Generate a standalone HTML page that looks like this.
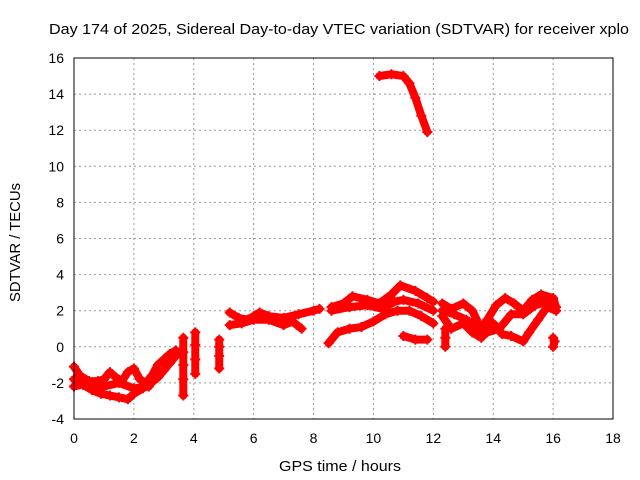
<!DOCTYPE html>
<html><head><meta charset="utf-8"><style>
body{margin:0;background:#fff}
svg{display:block;font-family:"Liberation Sans",sans-serif}
</style></head><body>
<svg id="c" width="640" height="480" xmlns="http://www.w3.org/2000/svg">
<text x="49" y="34" font-size="15" textLength="580" lengthAdjust="spacingAndGlyphs">Day 174 of 2025, Sidereal Day-to-day VTEC variation (SDTVAR) for receiver xplo</text>
<text x="279" y="471" font-size="15" textLength="122" lengthAdjust="spacingAndGlyphs">GPS time / hours</text>
<text x="20" y="302" font-size="15" textLength="119" lengthAdjust="spacingAndGlyphs" transform="rotate(-90 20 302)">SDTVAR / TECUs</text>
<g id="grid"></g><g id="ticks"></g><g id="marks"></g>
<rect x="74" y="58" width="539" height="361" fill="none" stroke="#000" stroke-width="1"/>
</svg>
<script>
const xTicks=[0,2,4,6,8,10,12,14,16,18];
const yTicks=[-4,-2,0,2,4,6,8,10,12,14,16];
const traceA=[[0,-1.8],[0.3,-2.1],[0.6,-2.4],[0.9,-2.6],[1.2,-2.7],[1.5,-2.8],[1.8,-2.9],[2.0,-2.6],[2.3,-2.3],[2.5,-2.1],[2.8,-1.7],[3.0,-1.3],[3.2,-0.9],[3.4,-0.5],[3.55,-0.3]];
const traceB=[[0,-1.1],[0.2,-1.6],[0.5,-1.9],[0.8,-1.9],[1.0,-1.8],[1.2,-1.4],[1.4,-1.7],[1.6,-1.9],[1.8,-1.4],[2.0,-1.2],[2.2,-1.8],[2.4,-2.0],[2.6,-1.6],[2.8,-1.0],[3.0,-0.7],[3.2,-0.4],[3.4,-0.2]];
const traceC=[[0,-2.2],[0.5,-2.0],[1.0,-2.2],[1.5,-2.0],[2.0,-2.3],[2.5,-2.2]];
const traceD=[[3.65,-2.7],[3.65,-1.8],[3.65,-1.0],[3.65,-0.3],[3.65,0.5]];
const traceE=[[4.05,-1.5],[4.05,-0.7],[4.05,0.1],[4.05,0.8]];
const traceF=[[4.85,-1.2],[4.85,-0.5],[4.85,0.0],[4.85,0.4]];
const traceG=[[5.2,1.9],[5.5,1.6],[5.8,1.5],[6.0,1.7],[6.2,1.9],[6.5,1.7],[7.0,1.6],[7.5,1.8],[8.0,2.0],[8.2,2.1]];
const traceH=[[5.2,1.2],[5.6,1.3],[6.0,1.5],[6.5,1.5],[7.0,1.2],[7.3,1.4],[7.6,1.0]];
const traceI=[[8.6,2.2],[9.0,2.4],[9.3,2.8],[9.8,2.6],[10.2,2.4],[10.6,2.9],[10.9,3.4],[11.4,3.1],[11.8,2.7],[12.0,2.5]];
const traceJ=[[8.6,2.0],[9.2,2.2],[9.8,2.3],[10.3,2.1],[10.7,2.5],[11.0,2.6],[11.5,2.4],[12.0,2.0]];
const traceK=[[8.5,0.2],[8.8,0.8],[9.2,1.0],[9.6,1.1],[10.0,1.4],[10.4,1.8],[10.8,2.0],[11.2,2.0],[11.6,1.7],[12.0,1.3]];
const traceL=[[11.0,0.6],[11.4,0.4],[11.8,0.4]];
const traceM=[[10.2,15.0],[10.6,15.1],[11.0,15.0],[11.2,14.6],[11.4,13.8],[11.6,12.8],[11.8,11.9]];
const traceN=[[12.3,2.4],[12.6,2.1],[13.0,2.4],[13.3,2.0],[13.6,1.0],[13.8,1.5],[14.1,2.3],[14.4,2.7],[14.7,2.4],[15.0,2.0],[15.3,2.6],[15.6,2.9],[16.0,2.7],[16.1,2.2]];
const traceO=[[12.3,1.7],[12.6,1.0],[13.0,1.3],[13.3,0.8],[13.6,0.5],[14.0,1.3],[14.3,0.7],[14.6,0.6],[15.0,0.3],[15.2,0.8],[15.5,1.5],[15.8,2.2],[16.1,2.0]];
const traceP=[[12.3,2.0],[12.7,1.8],[13.1,1.5],[13.4,1.2],[13.8,0.8],[14.2,1.0],[14.6,1.8],[15.0,1.8],[15.4,2.3],[16.0,2.6]];
const traceQ=[[12.4,0.0],[12.4,0.5],[12.4,1.0]];
const traceR=[[16.0,0.0],[16.05,0.3],[16.0,0.5]];
const traces=[traceA,traceB,traceC,traceD,traceE,traceF,traceG,traceH,traceI,traceJ,traceK,traceL,traceM,traceN,traceO,traceP,traceQ,traceR];
const NS="http://www.w3.org/2000/svg";
const X=t=>74+t*(539/18);
const Y=v=>419-(v+4)*(361/20);
function mk(tag,attrs,parent){const e=document.createElementNS(NS,tag);for(const k in attrs)e.setAttribute(k,attrs[k]);parent.appendChild(e);return e;}
const grid=document.getElementById('grid'),ticks=document.getElementById('ticks'),marks=document.getElementById('marks');
xTicks.forEach(t=>{
  if(t>0&&t<18){const g=mk('line',{x1:X(t),x2:X(t),y1:58,y2:419,stroke:'#999','stroke-dasharray':'2,3'},grid);
  
  }
  const tx=mk('text',{x:X(t),y:443,'font-size':14,'text-anchor':'middle'},ticks);tx.textContent=t;
  
  
});
yTicks.forEach(v=>{
  if(v>-4&&v<16){const g=mk('line',{x1:74,x2:613,y1:Y(v),y2:Y(v),stroke:'#999','stroke-dasharray':'2,3'},grid);
  
  }
  const tx=mk('text',{x:64,y:Y(v)+5,'font-size':14,'text-anchor':'end'},ticks);tx.textContent=v;
  
  
});
traces.forEach(tr=>{
  const pl=mk('polyline',{points:tr.map(p=>X(p[0])+','+Y(p[1])).join(' '),fill:'none',stroke:'#f00','stroke-width':8,'stroke-linejoin':'round','stroke-linecap':'round'},marks);
  
  
  tr.forEach(p=>{
    const x=X(p[0]),y=Y(p[1]);
    const m=mk('path',{d:`M${x-5},${y}H${x+5}M${x},${y-5}V${y+5}`,stroke:'#f00','stroke-width':2},marks);
    
    
  });
});
</script>
</body></html>
